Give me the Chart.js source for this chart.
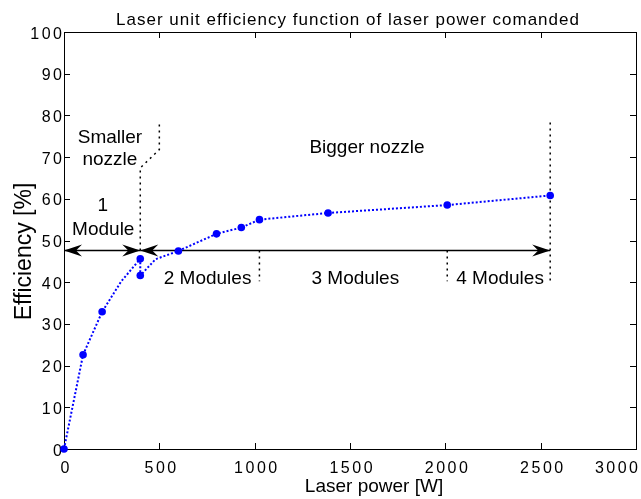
<!DOCTYPE html>
<html>
<head>
<meta charset="utf-8">
<script src="https://cdn.jsdelivr.net/npm/chart.js@4.4.1/dist/chart.umd.min.js"></script>
<style>
  html, body { margin: 0; padding: 0; background: #fff; }
  #wrap { width: 641px; height: 499px; }
</style>
</head>
<body>
<div id="wrap"><canvas id="effChart" width="641" height="499"></canvas></div>
<script>
"use strict";

// measured points: laser power [W] / efficiency [%]
var powerW = [0, 100, 200, 300, 400, 400, 480, 600, 800, 930, 1025, 1385, 2010, 2550];
var efficiency = [0, 22.6, 32.9, 40.2, 45.6, 41.6, 45.5, 47.5, 51.6, 53.1, 55.0, 56.6, 58.5, 60.8];
var hasMarker = [1, 1, 1, 0, 1, 1, 0, 1, 1, 1, 1, 1, 1, 1];

var xTicks = [0, 500, 1000, 1500, 2000, 2500, 3000];
var yTicks = [0, 10, 20, 30, 40, 50, 60, 70, 80, 90, 100];

// nozzle / module guides
var nozzleSplitX = [400, 400, 500, 500];
var nozzleSplitY = [47.6, 67.4, 71.8, 78.3];
var arrowLevel = 47.6;
var moduleEdges = [0, 400, 1025, 2010, 2550];
var dividerLow = 40.2;
var lastEdgeTop = 78.3;

var noteText = ["Smaller", "nozzle", "1", "Module", "Bigger nozzle", "2 Modules", "3 Modules", "4 Modules"];
var noteX = [241, 241, 203, 206, 1589, 753, 1528, 2287];
var noteY = [73.5, 68.0, 57.0, 51.4, 71.1, 39.6, 39.6, 39.6];

var blue = "#0000ff";

function pts(xs, ys) {
  return xs.map(function (v, i) { return { x: v, y: ys[i] }; });
}

function guide(data, dashed) {
  return {
    data: data,
    showLine: true,
    borderColor: "#000",
    borderWidth: 1.5,
    borderDash: dashed ? [2, 4] : [],
    pointRadius: 0,
    clip: false
  };
}

var datasets = [
  {
    label: "Efficiency",
    data: pts(powerW, efficiency),
    showLine: true,
    borderColor: blue,
    borderWidth: 2,
    borderDash: [2, 2],
    pointRadius: hasMarker.map(function (m) { return m ? 3.8 : 0; }),
    pointBackgroundColor: blue,
    pointBorderWidth: 0,
    clip: false
  },
  guide(pts(nozzleSplitX, nozzleSplitY), true),
  guide(pts([moduleEdges[2], moduleEdges[2]], [arrowLevel, dividerLow]), true),
  guide(pts([moduleEdges[3], moduleEdges[3]], [arrowLevel, dividerLow]), true),
  guide(pts([moduleEdges[4], moduleEdges[4]], [lastEdgeTop, dividerLow]), true),
  guide(pts([moduleEdges[0], moduleEdges[1]], [arrowLevel, arrowLevel]), false),
  guide(pts([moduleEdges[1], moduleEdges[4]], [arrowLevel, arrowLevel]), false)
];

function arrowHead(ctx, tx, ty, dir) {
  var L = 18, w = 6, notch = 6;
  ctx.beginPath();
  ctx.moveTo(tx, ty);
  ctx.lineTo(tx - dir * L, ty - w);
  ctx.lineTo(tx - dir * (L - notch), ty);
  ctx.lineTo(tx - dir * L, ty + w);
  ctx.closePath();
  ctx.fill();
}

var matlabFrame = {
  id: "matlabFrame",
  beforeDatasetsDraw: function (chart) {
    var ctx = chart.ctx, a = chart.chartArea;
    var xs = chart.scales.x, ys = chart.scales.y;
    ctx.save();
    ctx.strokeStyle = "#000";
    ctx.lineWidth = 1;
    ctx.strokeRect(a.left + 0.5, a.top + 0.5, a.right - a.left, a.bottom - a.top);
    ctx.beginPath();
    xs.ticks.forEach(function (t) {
      var px = Math.round(xs.getPixelForValue(t.value)) + 0.5;
      ctx.moveTo(px, a.bottom); ctx.lineTo(px, a.bottom - 6);
      ctx.moveTo(px, a.top); ctx.lineTo(px, a.top + 6);
    });
    ys.ticks.forEach(function (t) {
      var py = Math.round(ys.getPixelForValue(t.value)) + 0.5;
      ctx.moveTo(a.left, py); ctx.lineTo(a.left + 6, py);
      ctx.moveTo(a.right, py); ctx.lineTo(a.right - 6, py);
    });
    ctx.stroke();

    // tick labels (wide tracking like the original export)
    ctx.fillStyle = "#000";
    ctx.font = '16px "Liberation Sans", Arial, sans-serif';
    ctx.letterSpacing = "2.5px";
    ctx.textBaseline = "alphabetic";
    ctx.textAlign = "left";
    xs.ticks.forEach(function (t) {
      var s = String(t.value);
      var w = ctx.measureText(s).width - 2.5;
      var left = xs.getPixelForValue(t.value) + 1 - w / 2;
      if (left + w > chart.width - 3) left = chart.width - 3 - w;
      ctx.fillText(s, left, 472.5);
    });
    ctx.textAlign = "right";
    ys.ticks.forEach(function (t) {
      ctx.fillText(String(t.value), a.left + 0.5, ys.getPixelForValue(t.value) + 6.5);
    });

    // title
    ctx.letterSpacing = "1px";
    ctx.font = '17px "Liberation Sans", Arial, sans-serif';
    ctx.textAlign = "center";
    ctx.fillText("Laser unit efficiency function of laser power comanded", 348, 25);

    // axis titles
    ctx.letterSpacing = "0px";
    ctx.font = '19px "Liberation Sans", Arial, sans-serif';
    ctx.fillText("Laser power [W]", 374, 491.5);
    ctx.save();
    ctx.translate(31, 251.5);
    ctx.rotate(-Math.PI / 2);
    ctx.font = '23px "Liberation Sans", Arial, sans-serif';
    ctx.fillText("Efficiency [%]", 0, 0);
    ctx.restore();
    ctx.restore();
  },
  afterDatasetsDraw: function (chart) {
    var ctx = chart.ctx;
    var xs = chart.scales.x, ys = chart.scales.y;
    ctx.save();
    ctx.fillStyle = "#000";
    var ay = ys.getPixelForValue(arrowLevel);
    arrowHead(ctx, xs.getPixelForValue(moduleEdges[0]), ay, -1);
    arrowHead(ctx, xs.getPixelForValue(moduleEdges[1]), ay, 1);
    arrowHead(ctx, xs.getPixelForValue(moduleEdges[1]), ay, -1);
    arrowHead(ctx, xs.getPixelForValue(moduleEdges[4]), ay, 1);

    ctx.font = '19px "Liberation Sans", Arial, sans-serif';
    ctx.textAlign = "center";
    ctx.textBaseline = "alphabetic";
    noteText.forEach(function (txt, i) {
      ctx.fillText(txt, xs.getPixelForValue(noteX[i]), ys.getPixelForValue(noteY[i]));
    });
    ctx.restore();
  }
};

new Chart(document.getElementById("effChart"), {
  type: "scatter",
  data: { datasets: datasets },
  options: {
    responsive: false,
    animation: false,
    layout: { padding: { top: 32, right: 5, left: 0, bottom: 0 } },
    plugins: {
      legend: { display: false },
      tooltip: { enabled: false },
      title: { display: false }
    },
    scales: {
      x: {
        type: "linear",
        min: 0,
        max: 3000,
        grid: { display: false },
        border: { display: false },
        ticks: { display: false },
        afterBuildTicks: function (scale) {
          scale.ticks = xTicks.map(function (v) { return { value: v }; });
        },
        afterFit: function (scale) { scale.height = 50; }
      },
      y: {
        type: "linear",
        min: 0,
        max: 100,
        grid: { display: false },
        border: { display: false },
        ticks: { display: false },
        afterBuildTicks: function (scale) {
          scale.ticks = yTicks.map(function (v) { return { value: v }; });
        },
        afterFit: function (scale) { scale.width = 64; }
      }
    }
  },
  plugins: [matlabFrame]
});
</script>
</body>
</html>
